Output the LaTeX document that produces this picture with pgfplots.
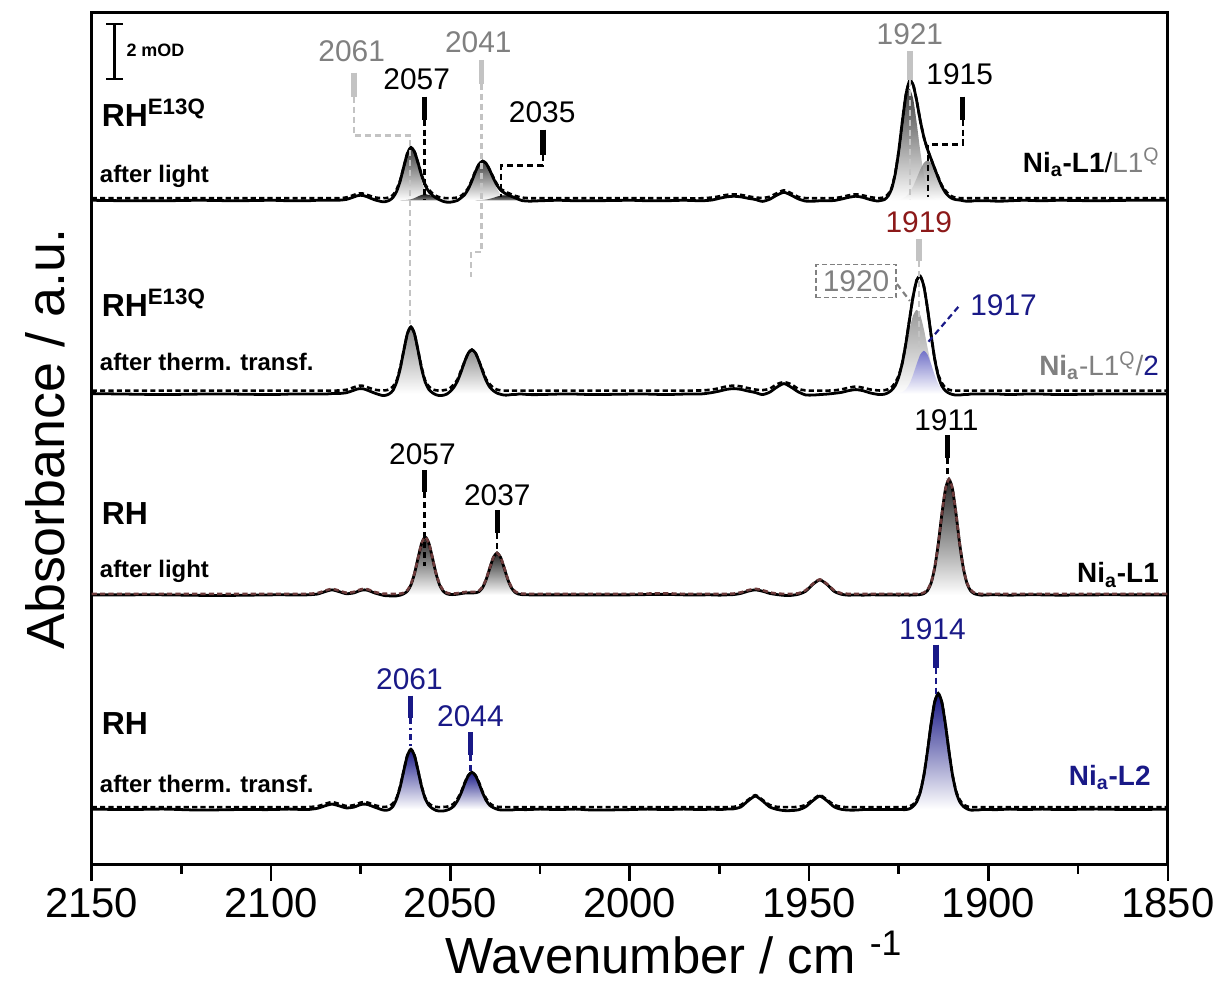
\documentclass[border=0pt]{standalone}
\usepackage{pgfplots}
\pgfplotsset{compat=1.18}
\usepackage{pgfplotstable}
\usepackage{fontspec}
\setmainfont{Liberation Sans}

\definecolor{navy}{RGB}{25,25,135}
\definecolor{darkred}{RGB}{140,25,25}
\definecolor{gtext}{RGB}{128,128,128}
\definecolor{lgray}{RGB}{195,195,195}
\definecolor{fitbrown}{RGB}{110,60,60}
\definecolor{compblue}{RGB}{105,105,200}

\newcommand{\pk}{\fontsize{15}{18}\selectfont}
\newcommand{\nmlab}{\fontsize{16}{19}\selectfont\bfseries}
\newcommand{\smp}{\fontsize{12}{14}\selectfont\bfseries}
\newcommand{\nilab}{\fontsize{14}{17}\selectfont}

% spectra relative to their own baseline; columns s = measured, f = fit
\pgfplotstableread{
x s1 f1 s2 f2 s3 f3 s4 f4
2150 0 2 0 3 0 1 0 2
2140 -0.5 2 -0.5 3 0 1 -0.5 2
2130 -0.5 2 -1 3 0 1 0 2
2120 0 2 -0.5 3 -0.5 1 -1 2
2110 -0.5 2 -0.5 3 -0.5 1 -0.5 2
2100 0 2 -1 3 0 1 -0.5 2
2095 -0.5 2 -0.5 3 0 1 0 2
2090 -0.5 2 -0.5 3 0 1 -0.5 2
2087 0 2 -0.5 3 0.85 1.85 0.85 2.85
2085 0 2 -0.5 3 3.2 4.2 3.2 5.2
2083 0 2 0 3 5 6 5 7
2081 0.1 2.1 0.1 3.1 3.2 4.2 3.2 5.2
2079 0.85 2.85 0.85 3.85 1.15 2.15 1.15 3.15
2077 3.2 5.2 3.2 6.2 1.9 2.9 1.9 3.9
2076 4.5 6.5 4.5 7.5 3.2 4.2 3.2 5.2
2075 5 7 5 8 4.5 5.5 4.5 6.5
2074 4.5 6.5 4.5 7.5 5 6 5 7
2073 3.2 5.2 3.2 6.2 4.5 5.5 4.5 6.5
2071 0.35 2.85 0.35 3.85 1.8 2.8 1.8 3.8
2069 -1.4 2.1 -1.9 3.1 -0.2 1.3 -0.7 2.3
2068 -1.3 2.2 -1.7 3.3 -0.9 1.1 -1.2 2.3
2067 0 3 -0.2 4.3 -1 1 -0.4 3.1
2066 2.8 5.3 3.2 7.2 -1.2 1 2.8 5.8
2065 8.8 10.8 11.4 12.9 -1 1 10.2 11.2
2064 19.2 20.2 24.7 26.2 -0.3 1.2 22.1 23.1
2063 33.5 33.5 43 43 1.1 2.1 38.5 38.5
2062 46.9 46.9 60 60 3.7 4.7 53.7 53.7
2061 53 53 67 67 9.9 10.9 60 60
2060 48.7 48.7 60 60 21.4 21.9 53.7 53.7
2059 37.3 37.3 43 43 37.2 37.2 38.5 38.5
2058 24.6 25.6 24.7 26.2 51.9 51.9 22.1 23.1
2057 14.8 15.8 11.4 12.9 58 58 10.2 11.2
2056 8.7 10.7 4.2 7.2 51.9 51.9 3.8 5.8
2055 4.9 6.9 0.8 4.3 37.2 37.2 0.6 3.1
2054 2.4 4.4 -1.2 3.3 21.4 21.9 -1.3 2.2
2053 0.5 3 -2 3 9.9 10.9 -2 2
2052 -1.1 2.4 -1.7 3.3 3.7 4.7 -1.9 2.1
2051 -1.9 2.1 -0.5 4 1.1 2.1 -1.1 2.4
2050 -1.9 2.1 2.3 5.8 0.3 1.3 0.4 3.4
2049 -1.2 2.3 6.4 9.4 0.3 1.3 3.2 5.7
2048 -0.1 2.9 12.8 14.3 0.7 1.7 8.5 10.5
2047 2.5 4.5 22 23.5 1.3 2.3 16.2 17.2
2046 5.7 7.7 32.3 32.3 1.8 2.8 25.6 26.6
2045 11.4 12.4 40.7 40.7 2 3 33.7 33.7
2044 19.5 20.5 44 44 2 3 37 37
2043 28.7 29.7 40.7 40.7 2.1 3.1 33.7 33.7
2042 36.2 36.2 32.3 32.3 3.3 4.3 25.6 26.6
2041 39.3 39.3 22 23.5 7.4 8.4 16.2 17.2
2040 36.8 36.8 12.8 14.3 15.6 16.1 8.5 10.5
2039 30.2 30.2 6.4 9.4 27 27.5 3.7 5.7
2038 22 23 2.8 5.8 37.6 37.6 1.4 3.4
2037 15.1 16.1 0.5 4 42 42 -0.1 2.4
2036 10.3 11.3 -0.7 3.3 37.6 37.6 -0.9 2.1
2035 7.5 9.5 -1.5 3 27 27.5 -1 2
2034 5.5 7.5 -1.5 3 15.5 16 -1 2
2033 4 6 -1 3 7.1 8.1 -1 2
2032 2.5 4.5 -1 3 2.6 3.6 -0.5 2
2031 1 3.5 -0.5 3 0.8 1.8 -0.5 2
2030 -0.3 2.7 -0.5 3 0.2 1.2 -0.5 2
2028 -0.9 2.1 -1 3 0 1 -0.5 2
2025 -0.5 2 -1 3 0 1 0 2
2020 0 2 -0.5 3 0 1 -0.5 2
2015 -0.5 2 -0.5 3 0 1 0 2
2010 -0.5 2 -1 3 0 1 -1 2
2000 0 2 -0.5 3 0 1 -0.5 2
1995 -0.5 2 -0.5 3 0.3 1.3 0 2
1990 -0.5 2 -1 3 0.5 1.5 -0.5 2
1985 0 2 -0.5 3 0 1 0 2
1980 -0.5 2 -0.35 3.15 0 1 -0.5 2
1977 0.3 2.8 1.05 4.05 0 1 0 2
1975 2 4 2.5 5.5 -0.3 1 -0.5 2
1973 3.4 5.4 4.2 7.2 0 1 0 2
1971 4 6 5 8 0.3 1.3 0.25 2.25
1969 3.4 5.4 4.2 7.2 1.5 2.5 2.2 4.2
1967 2 4 2.5 5.5 3.7 4.7 8.3 9.3
1965 0.8 2.8 1.05 4.05 5 6 13 14
1963 -1.1 2.4 -1 3.5 3.7 4.7 8.3 9.3
1961 1 3.5 1.35 4.85 1.5 2.5 2.2 4.2
1959 5.1 7.1 6.4 9.4 0.3 1.3 -0.25 2.25
1957 8 10 10 11.5 -0.5 1 -1.5 2
1955 5.1 7.1 6.4 9.4 -0.5 1 -1.5 2
1953 1.4 3.4 1.7 4.7 0.6 1.6 -0.75 2.25
1951 -0.8 2.2 -1.3 3.2 3.5 4.5 2.2 4.2
1949 -1 2 -1.5 3 10.4 10.9 8.3 9.3
1947 -0.5 2 -1 3 15 15.5 13 14
1945 -0.5 2 -0.5 3 10.4 10.9 8.3 9.3
1943 -0.25 2.25 0.25 3.25 3.5 4.5 2.2 4.2
1941 1.2 3.2 1.2 4.2 0.6 1.6 -0.25 2.25
1939 2.9 4.9 2.9 5.9 -0.3 1 -1 2
1937 4 6 4 7 0 1 -1 2
1935 2.9 4.9 2.9 5.9 -0.3 1 -0.5 2
1933 0.7 3.2 0.7 4.2 0 1 -0.5 2
1931 -0.75 2.25 -0.75 3.25 0 1 -0.5 2
1930 -0.2 2.3 -0.9 3.1 0 1 -0.5 2
1929 0.7 3.2 -0.6 3.4 0 1 -0.5 2
1928 4.1 6.1 0.8 4.3 0 1 -0.5 2
1927 11.3 12.3 3.4 6.4 0 1 -0.5 2
1926 26.1 27.1 8 11 0 1 -0.5 2
1925 49.7 49.7 16.8 18.3 -0.3 1 -0.5 2
1924 79.2 79.2 31 31 0 1 -0.5 2
1923 105.9 105.9 50.8 50.8 0 1 -0.5 2
1922 119.8 119.8 74.5 74.5 -0.3 1 0.3 2.8
1921 116.1 116.1 97.4 97.4 0 1 2.7 4.7
1920 99.8 99.8 113.8 113.8 0 1 7.3 9.3
1919 79.9 79.9 117.8 117.8 0.3 1.3 16.9 17.9
1918 63.3 63.3 107.6 107.6 1.3 2.3 33.9 33.9
1917 51.3 51.3 85.7 85.7 4.3 5.3 58 58
1916 41.5 41.5 59.2 59.2 11.7 12.2 85.3 85.3
1915 32 32 35.1 35.1 26.8 27.3 107.4 107.4
1914 22.5 23.5 17.8 19.3 50.8 50.8 116 116
1913 14 15 7.7 10.7 80.4 80.4 107.4 107.4
1912 7.8 9.8 2.9 5.9 105.8 105.8 85.3 85.3
1911 3.8 5.8 0.4 3.9 116 116 58 58
1910 1.6 3.6 -0.9 3.1 105.8 105.8 33.9 33.9
1909 0.6 2.6 -1.5 3 80.4 80.4 16.9 17.9
1908 0.2 2.2 -1.5 3 50.8 50.8 7.3 9.3
1907 -0.5 2 -1 3 26.8 27.3 2.7 4.7
1906 -1 2 -1 3 11.7 12.2 0.3 2.8
1905 -1 2 -0.5 3 4.3 5.3 -1 2
1904 -0.5 2 -0.5 3 1.3 2.3 -1 2
1903 -0.5 2 -0.5 3 0.3 1.3 -1 2
1902 -0.5 2 -0.5 3 -0.3 1 -0.5 2
1900 -0.5 2 -0.5 3 0 1 -0.5 2
1897 -1 2 -0.5 3 0 1 -0.5 2
1894 -0.5 2 -1 3 -0.3 1 0 2
1890 0 2 -0.5 3 0 1 -0.5 2
1885 -0.5 2 -0.5 3 0 1 0 2
1880 0 2 -1 3 -0.3 1 -0.5 2
1870 -0.5 2 -0.5 3 0 1 0 2
1860 0 2 -0.5 3 0 1 -0.5 2
1850 0 2 -0.5 3 0 1 0 2
}\spec

\pgfplotsset{
  off1/.style={y filter/.expression={y+667}},
  off2/.style={y filter/.expression={y+473}},
  off3/.style={y filter/.expression={y+271}},
  off4/.style={y filter/.expression={y+56}},
  spec/.style={black, line width=1.4pt, smooth, tension=0.4},
  fit/.style={line width=1.3pt, dash pattern=on 2.6pt off 1.6pt, smooth, tension=0.4},
  comp/.style={draw=none, smooth, tension=0.4, bottom color=white},
  bar/.style={line width=2.8pt},
  lead/.style={line width=1.1pt, dash pattern=on 3pt off 2pt},
}

\begin{document}
\begin{tikzpicture}
\begin{axis}[
  scale only axis, width=540pt, height=427.5pt,
  xmin=1850, xmax=2150, x dir=reverse,
  ymin=0, ymax=855, clip=false,
  axis line style={line width=1.5pt},
  xtick={1850,1900,...,2150}, minor xtick={1875,1925,...,2125},
  ytick=\empty, xtick pos=bottom, tick align=outside,
  major tick length=8pt, minor tick length=4.5pt,
  every tick/.style={black, line width=1.3pt},
  /pgf/number format/assume math mode=true,
  /pgf/number format/1000 sep={},
  xticklabel style={font=\fontsize{21}{24}\selectfont},
  xlabel={Wavenumber / cm \textsuperscript{-1}},
  xlabel style={font=\fontsize{25.5}{28}\selectfont, at={(axis description cs:0.541,-0.127)}, anchor=base},
  ylabel={Absorbance / a.u.},
  ylabel style={font=\fontsize{27}{30}\selectfont, at={(axis description cs:-0.0435,0.5)}, anchor=center},
]
% ---------- band components (fills) ----------
% RH E13Q after light
\addplot[comp, top color=black!75, off1] coordinates {(2068,0)(2067,1.0)(2066,3.3)(2065,8.8)(2064,19.2)(2063,33.4)(2062,46.5)(2061,52)(2060,46.5)(2059,33.4)(2058,19.2)(2057,8.8)(2056,3.3)(2055,1.0)(2054,0)} -- cycle;
\addplot[comp, top color=black!90, bottom color=black!45, off1] coordinates {(2064,0)(2063,0.1)(2062,0.4)(2061,1.0)(2060,2.2)(2059,3.9)(2058,5.4)(2057,6)(2056,5.4)(2055,3.9)(2054,2.2)(2053,1.0)(2052,0.4)(2051,0.1)(2050,0)} -- cycle;
\addplot[comp, top color=black!75, off1] coordinates {(2050,0)(2049,0.3)(2048,0.9)(2047,2.5)(2046,5.7)(2045,11.4)(2044,19.5)(2043,28.7)(2042,36.1)(2041,39)(2040,36.1)(2039,28.7)(2038,19.5)(2037,11.4)(2036,5.7)(2035,2.5)(2034,0.9)(2033,0.3)(2032,0)} -- cycle;
\addplot[comp, top color=black!90, bottom color=black!45, off1] coordinates {(2043,0)(2042,0.1)(2041,0.3)(2040,0.7)(2039,1.5)(2038,2.5)(2037,3.7)(2036,4.6)(2035,5)(2034,4.6)(2033,3.7)(2032,2.5)(2031,1.5)(2030,0.7)(2029,0.3)(2028,0)} -- cycle;
\addplot[comp, top color=black!75, off1] coordinates {(1931,0)(1930,0.3)(1929,1.2)(1928,4.1)(1927,11.3)(1926,25.9)(1925,49.1)(1924,77.6)(1923,102.1)(1922,112)(1921,102.1)(1920,77.6)(1919,49.1)(1918,25.9)(1917,11.3)(1916,4.1)(1915,1.2)(1914,0.3)(1913,0)} -- cycle;
\addplot[comp, top color=black!55, fill opacity=0.8, off1] coordinates {(1927,0)(1926,0.2)(1925,0.6)(1924,1.6)(1923,3.8)(1922,7.8)(1921,14)(1920,22.2)(1919,30.8)(1918,37.4)(1917,40)(1916,37.4)(1915,30.8)(1914,22.2)(1913,14)(1912,7.8)(1911,3.8)(1910,1.6)(1909,0.6)(1908,0.2)(1907,0)} -- cycle;
% RH E13Q after thermal transfer
\addplot[comp, top color=black!45, off2] coordinates {(2068,0)(2067,1.3)(2066,4.2)(2065,11.4)(2064,24.7)(2063,43)(2062,60)(2061,67)(2060,60)(2059,43)(2058,24.7)(2057,11.4)(2056,4.2)(2055,1.3)(2054,0)} -- cycle;
\addplot[comp, top color=black!45, off2] coordinates {(2053,0)(2052,0.3)(2051,1.0)(2050,2.8)(2049,6.4)(2048,12.8)(2047,22)(2046,32.3)(2045,40.7)(2044,44)(2043,40.7)(2042,32.3)(2041,22)(2040,12.8)(2039,6.4)(2038,2.8)(2037,1.0)(2036,0.3)(2035,0)} -- cycle;
\addplot[comp, top color=black!40, off2] coordinates {(1930,0)(1929,0.4)(1928,1.3)(1927,3.4)(1926,7.9)(1925,16.3)(1924,29.4)(1923,46.5)(1922,64.6)(1921,78.6)(1920,84)(1919,78.6)(1918,64.6)(1917,46.5)(1916,29.4)(1915,16.3)(1914,7.9)(1913,3.4)(1912,1.3)(1911,0.4)(1910,0)} -- cycle;
\addplot[comp, top color=compblue, fill opacity=0.9, off2] coordinates {(1926,0)(1925,0.5)(1924,1.6)(1923,4.3)(1922,9.9)(1921,18.8)(1920,29.8)(1919,39.2)(1918,43)(1917,39.2)(1916,29.8)(1915,18.8)(1914,9.9)(1913,4.3)(1912,1.6)(1911,0.5)(1910,0)} -- cycle;
% RH after light
\addplot[comp, top color=black!85, off3] coordinates {(2064,0)(2063,1.1)(2062,3.7)(2061,9.9)(2060,21.4)(2059,37.2)(2058,51.9)(2057,58)(2056,51.9)(2055,37.2)(2054,21.4)(2053,9.9)(2052,3.7)(2051,1.1)(2050,0)} -- cycle;
\addplot[comp, top color=black!85, off3] coordinates {(2044,0)(2043,0.8)(2042,2.6)(2041,7.1)(2040,15.5)(2039,27)(2038,37.6)(2037,42)(2036,37.6)(2035,27)(2034,15.5)(2033,7.1)(2032,2.6)(2031,0.8)(2030,0)} -- cycle;
\addplot[comp, top color=black!85, off3] coordinates {(1920,0)(1919,0.3)(1918,1.3)(1917,4.3)(1916,11.7)(1915,26.8)(1914,50.8)(1913,80.4)(1912,105.8)(1911,116)(1910,105.8)(1909,80.4)(1908,50.8)(1907,26.8)(1906,11.7)(1905,4.3)(1904,1.3)(1903,0.3)(1902,0)} -- cycle;
% RH after thermal transfer
\addplot[comp, top color=navy, off4] coordinates {(2068,0)(2067,1.1)(2066,3.8)(2065,10.2)(2064,22.1)(2063,38.5)(2062,53.7)(2061,60)(2060,53.7)(2059,38.5)(2058,22.1)(2057,10.2)(2056,3.8)(2055,1.1)(2054,0)} -- cycle;
\addplot[comp, top color=navy, off4] coordinates {(2052,0)(2051,0.4)(2050,1.4)(2049,3.7)(2048,8.5)(2047,16.2)(2046,25.6)(2045,33.7)(2044,37)(2043,33.7)(2042,25.6)(2041,16.2)(2040,8.5)(2039,3.7)(2038,1.4)(2037,0.4)(2036,0)} -- cycle;
\addplot[comp, top color=navy, off4] coordinates {(1923,0)(1922,0.8)(1921,2.7)(1920,7.3)(1919,16.9)(1918,33.9)(1917,58)(1916,85.3)(1915,107.4)(1914,116)(1913,107.4)(1912,85.3)(1911,58)(1910,33.9)(1909,16.9)(1908,7.3)(1907,2.7)(1906,0.8)(1905,0)} -- cycle;

% ---------- spectra ----------
\addplot[spec, off1] table[x=x, y=s1] {\spec};
\addplot[spec, off2] table[x=x, y=s2] {\spec};
\addplot[spec, off3] table[x=x, y=s3] {\spec};
\addplot[spec, off4] table[x=x, y=s4] {\spec};
\addplot[fit, black, off1] table[x=x, y=f1] {\spec};
\addplot[fit, black, off2] table[x=x, y=f2] {\spec};
\addplot[fit, fitbrown, off3] table[x=x, y=f3] {\spec};
\addplot[fit, black, off4] table[x=x, y=f4] {\spec};

% ---------- scale bar ----------
\addplot[black, line width=1.2pt] coordinates {(2143.6,844)(2143.6,789)};
\addplot[black, line width=1.2pt] coordinates {(2145.9,844)(2141.3,844)};
\addplot[black, line width=1.2pt] coordinates {(2145.9,789)(2141.3,789)};
\node[anchor=base west, inner xsep=0pt, font=\fontsize{9}{11}\selectfont\bfseries] at (axis cs:2140.4,811) {2 mOD};

% ---------- peak markers, spectrum 1 ----------
\addplot[bar, lgray] coordinates {(2076.9,795)(2076.9,771)};
\addplot[lead, lgray] coordinates {(2076.9,771)(2076.9,732)(2061.3,732)(2061.3,543)};
\node[anchor=base, font=\pk, text=gtext] at (axis cs:2077.5,806) {2061};
\addplot[bar, black] coordinates {(2057.2,771)(2057.2,748)};
\addplot[lead, black] coordinates {(2057.2,748)(2057.2,667)};
\node[anchor=base, font=\pk] at (axis cs:2059.4,778) {2057};
\addplot[bar, lgray] coordinates {(2041.3,808)(2041.3,784)};
\addplot[lead, lgray] coordinates {(2041.3,784)(2041.3,615)(2044.3,615)(2044.3,590)};
\node[anchor=base, font=\pk, text=gtext] at (axis cs:2042.2,815) {2041};
\addplot[bar, black] coordinates {(2024.2,738)(2024.2,712)};
\addplot[lead, black] coordinates {(2024.2,712)(2024.2,702)(2035.8,702)(2035.8,670)};
\node[anchor=base, font=\pk] at (axis cs:2024.4,745) {2035};
\addplot[bar, lgray] coordinates {(1921.9,817)(1921.9,788)};
\addplot[lead, lgray] coordinates {(1921.9,788)(1921.9,668)};
\node[anchor=base, font=\pk, text=gtext] at (axis cs:1921.9,823) {1921};
\addplot[bar, black] coordinates {(1907.2,771)(1907.2,748)};
\addplot[lead, black] coordinates {(1907.2,748)(1907.2,723)(1916.8,723)(1916.8,670)};
\node[anchor=base, font=\pk] at (axis cs:1908,783) {1915};

% ---------- spectrum 2 ----------
\addplot[bar, lgray] coordinates {(1919.4,628)(1919.4,606)};
\addplot[lead, lgray] coordinates {(1919.4,606)(1919.4,520)};
\node[anchor=base, font=\pk, text=darkred] at (axis cs:1919.4,635) {1919};
\node[draw=gtext, dash pattern=on 2.5pt off 1.5pt, line width=0.9pt, font=\pk, text=gtext, inner xsep=3.5pt, inner ysep=3pt] at (axis cs:1936.9,586) {1920};
\addplot[lead, gtext] coordinates {(1925.5,583)(1921.9,566)};
\addplot[lead, navy] coordinates {(1908.4,560)(1917.2,523)};
\node[anchor=base, font=\pk, text=navy] at (axis cs:1895.8,551) {1917};

% ---------- spectrum 3 ----------
\addplot[bar, black] coordinates {(2057.2,396)(2057.2,374)};
\addplot[lead, black] coordinates {(2057.2,374)(2057.2,300)};
\node[anchor=base, font=\pk] at (axis cs:2057.8,402) {2057};
\addplot[bar, black] coordinates {(2036.9,356)(2036.9,333)};
\addplot[lead, black] coordinates {(2036.9,333)(2036.9,313)};
\node[anchor=base, font=\pk] at (axis cs:2036.9,361) {2037};
\addplot[bar, black] coordinates {(1911.4,431)(1911.4,408)};
\addplot[lead, black] coordinates {(1911.4,408)(1911.4,388)};
\node[anchor=base, font=\pk] at (axis cs:1911.7,436) {1911};

% ---------- spectrum 4 ----------
\addplot[bar, navy] coordinates {(2061.1,170)(2061.1,147)};
\addplot[navy, line width=1.1pt, dash pattern=on 3pt off 2pt on 1pt off 2pt] coordinates {(2061.1,147)(2061.1,116)};
\node[anchor=base, font=\pk, text=navy] at (axis cs:2061.4,176) {2061};
\addplot[bar, navy] coordinates {(2044.4,133)(2044.4,110)};
\addplot[lead, navy] coordinates {(2044.4,110)(2044.4,93)};
\node[anchor=base, font=\pk, text=navy] at (axis cs:2044.4,139) {2044};
\addplot[bar, navy] coordinates {(1914.6,221)(1914.6,198)};
\addplot[lead, navy] coordinates {(1914.6,198)(1914.6,172)};
\node[anchor=base, font=\pk, text=navy] at (axis cs:1915.6,226) {1914};

% ---------- sample labels ----------
\tikzset{lab/.style={anchor=base west, inner xsep=0pt}, rlab/.style={anchor=base east, inner xsep=0pt, font=\nilab}}
\node[lab, font=\nmlab] at (axis cs:2147.3,741) {RH\textsuperscript{E13Q}};
\node[lab, font=\smp] at (axis cs:2147.8,685) {after light};
\node[lab, font=\nmlab] at (axis cs:2147.3,550) {RH\textsuperscript{E13Q}};
\node[lab, font=\smp] at (axis cs:2147.8,496) {after therm. transf.};
\node[lab, font=\nmlab] at (axis cs:2147.3,342) {RH};
\node[lab, font=\smp] at (axis cs:2147.8,288) {after light};
\node[lab, font=\nmlab] at (axis cs:2147.3,131) {RH};
\node[lab, font=\smp] at (axis cs:2147.8,73) {after therm. transf.};

\node[rlab] at (axis cs:1852.2,695) {{\bfseries Ni\textsubscript{a}-L1}/{\color{gtext}L1\textsuperscript{Q}}};
\node[rlab] at (axis cs:1852.4,491) {{\color{gtext}{\bfseries Ni\textsubscript{a}}-L1\textsuperscript{Q}/}{\color{navy}2}};
\node[rlab] at (axis cs:1852.4,283) {\bfseries Ni\textsubscript{a}-L1};
\node[rlab, text=navy] at (axis cs:1854.7,80) {\bfseries Ni\textsubscript{a}-L2};

% page size of the reference
\path (axis cs:2175.56,-130) rectangle (axis cs:1836.39,868);
\end{axis}
\end{tikzpicture}
\end{document}
